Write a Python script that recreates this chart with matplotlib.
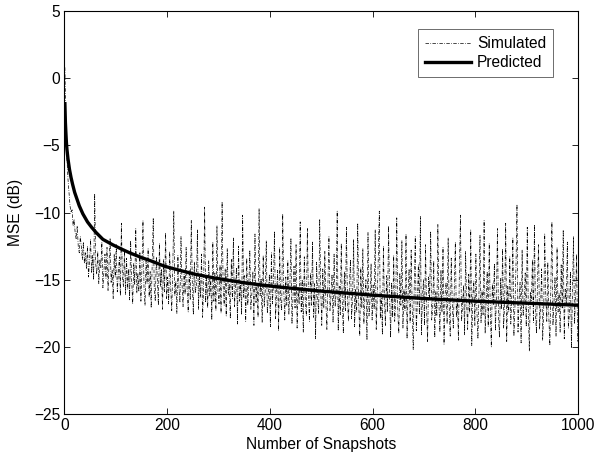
import matplotlib
matplotlib.use("Agg")
import matplotlib.pyplot as plt
import numpy as np

plt.rcParams['font.family'] = ['Liberation Sans', 'DejaVu Sans']
plt.rcParams['font.size'] = 11.2

# predicted MSE curve (dB)
pred_x = [1, 2, 3, 4, 5, 7, 10, 13, 16, 20, 29, 36, 45, 53, 62, 75, 94, 110, 127,
          150, 172, 195, 224, 255, 289, 320, 354, 385, 419, 500, 600, 700, 800, 900, 1000]
pred_y = [-1.9, -3.3, -4.1, -4.8, -5.3, -6.0, -6.8, -7.4, -7.9, -8.5, -9.5, -10.1,
          -10.7, -11.1, -11.5, -12.0, -12.4, -12.7, -13.0, -13.35, -13.65, -14.0,
          -14.3, -14.6, -14.85, -15.05, -15.25, -15.4, -15.55, -15.85, -16.15,
          -16.4, -16.6, -16.75, -16.9]

# simulated MSE (dB), every second snapshot
sim_y = [
    0.8, -3.5, -6, -7.5, -8.5, -9.5, -10, -9.8, -11, -10.5, -11.5, -12, -11, -12.5, -13, -11.8, -12.5, -13.5, -12.2, -13.8,
    -13, -14.2, -12.5, -14.8, -13.6, -12, -14.5, -13.2, -15, -8.6, -13.8, -14.6, -12.9, -15.3, -13.5, -14.1, -12.2, -15.6, -14.4, -13.1,
    -14.9, -12.6, -15.8, -13.7, -11.9, -15.2, -14.3, -16.4, -13.1, -14.8, -12.4, -15.9, -14.6, -13.3, -16.2, -10.8, -14.9, -15.5, -12.8, -16.1,
    -13.4, -15.7, -14.2, -16.5, -12.1, -15.1, -16.8, -13.8, -15.4, -11.2, -16, -14.5, -15.9, -13, -16.6, -14.1, -10.6, -15.6, -16.9, -13.6,
    -15.3, -12.7, -16.3, -14.4, -17.1, -13.9, -10.4, -15.8, -16.6, -13.3, -15, -16.9, -12.3, -15.5, -14.2, -17.2, -13.5, -15.9, -11.5, -16.4,
    -14.8, -16.8, -12.9, -15.7, -17.3, -14.1, -9.9, -16.2, -15.1, -17.5, -13.2, -15.6, -16.7, -11.8, -15.3, -17, -14.6, -16.1, -12.6, -15.8,
    -17.4, -14.3, -16.5, -10.6, -15.2, -17.6, -13.7, -16, -15.4, -11.3, -17.2, -14.8, -16.3, -13.1, -17.8, -15.6, -9.6, -16.7, -14.9, -17.1,
    -13.6, -16.2, -15, -18, -12.2, -16.6, -14.5, -17.3, -11, -15.9, -16.8, -13.9, -17.5, -9.2, -15.4, -16.9, -14.2, -17.7, -12.7, -16.1,
    -15.3, -17.9, -13.5, -16.4, -11.9, -17, -15.7, -14.1, -18.3, -12.5, -16.6, -15.1, -17.6, -10.2, -16.3, -14.7, -18.1, -13.4, -16.9, -15.5,
    -12.8, -17.2, -16, -14.4, -18.4, -11.6, -16.7, -15.3, -17.8, -9.7, -16.2, -14.9, -18.2, -13.2, -17, -15.8, -12.1, -17.5, -16.4, -14.6,
    -18.5, -13, -16.8, -15.2, -11.4, -17.9, -16.1, -14.3, -18.8, -12.6, -16.5, -17.3, -10.1, -15.7, -18, -14.8, -16.9, -13.6, -17.6, -15.4,
    -11.9, -18.3, -16.3, -14, -17.1, -12.4, -18.6, -15.6, -16.8, -10.7, -17.4, -15, -18.9, -13.3, -16.6, -17.7, -11.2, -15.9, -18.1, -14.5,
    -16.9, -12.2, -17.8, -15.3, -19.4, -13.7, -16.4, -17.5, -10.5, -15.8, -18.4, -14.2, -17.1, -12.9, -16.7, -18.7, -15.1, -11.8, -17.3, -16.2,
    -14.6, -18.2, -13.1, -17, -16, -9.9, -18.8, -15.5, -17.6, -12.3, -16.8, -19, -14.4, -17.3, -11.1, -16.5, -18.1, -15.2, -13.5, -17.9,
    -16.3, -12, -18.5, -15.7, -17.4, -10.8, -16.9, -19.2, -14.1, -17.1, -12.7, -18.3, -16.2, -15, -19.5, -11.5, -17.7, -16.5, -13.8, -18,
    -15.4, -17.2, -11.3, -18.7, -16.4, -13.4, -9.9, -17.9, -15.9, -19.1, -12.5, -16.7, -18.4, -14.7, -17.4, -11, -16.1, -19.3, -15.2, -17.8,
    -13.2, -18.1, -16.6, -10.4, -17.5, -19, -14.5, -16.9, -12.1, -18.6, -15.7, -17.3, -11.6, -19.4, -16, -14.2, -18.2, -12.8, -17, -20.2,
    -15.5, -11.8, -18.8, -16.8, -13.9, -17.6, -10.3, -19.1, -16.3, -15, -18.4, -12.4, -17.2, -19.6, -14.8, -16.5, -11.4, -18, -17.1, -13.6,
    -19.3, -15.9, -17.7, -10.9, -16.7, -18.9, -14.3, -17.4, -12.6, -19.8, -16.1, -15.2, -18.3, -11.9, -17, -19.2, -13.4, -16.6, -18.6, -15.6,
    -12.2, -17.8, -16.4, -19.5, -14, -10.2, -18.1, -17, -15.4, -19.1, -12.9, -16.8, -18.7, -14.6, -17.5, -11.3, -19.9, -16.2, -15.1, -18.4,
    -13.1, -17.3, -19.4, -16, -11.7, -18.2, -15.8, -17.6, -10.6, -19, -16.5, -14.4, -18.5, -12.3, -17.1, -20, -15.3, -16.9, -13.8, -18.8,
    -16.3, -11.2, -17.9, -19.3, -14.9, -17.2, -12.7, -18.6, -16.7, -10.8, -19.6, -15.5, -17.4, -13.3, -18.3, -16.1, -11.9, -19.2, -17, -14.1,
    -9.4, -18.9, -16.6, -15.2, -19.7, -12.8, -17.7, -16.4, -14.5, -18.5, -11.1, -17.1, -20.3, -15.9, -16.8, -13.5, -18.2, -10.9, -17.6, -19,
    -15, -12.4, -18.7, -16.9, -14.2, -19.5, -17.3, -11.6, -16.2, -18.1, -13.7, -17.8, -19.9, -15.4, -10.7, -18.4, -16.7, -14.8, -19.2, -12.6,
    -17.4, -16, -18.9, -13.9, -17.1, -11.3, -19.4, -15.7, -16.8, -12.2, -18.6, -17.5, -14.4, -20.1, -15.9, -11.8, -18.3, -16.4, -13.1, -19.6,
]
sim_x = np.arange(1, 2 * len(sim_y), 2)

fig = plt.figure(figsize=(5.96, 4.57), dpi=100)
ax = fig.add_axes([0.108, 0.094, 0.862, 0.882])

ax.plot(sim_x, sim_y, color='black', lw=0.5, linestyle=(0, (5, 2, 1, 2)), label='Simulated')
ax.plot(pred_x, pred_y, color='black', lw=2.4, label='Predicted')

ax.set_xlim(0, 1000)
ax.set_ylim(-25, 5)
ax.set_xticks([0, 200, 400, 600, 800, 1000])
ax.set_yticks([-25, -20, -15, -10, -5, 0, 5])
ax.set_yticklabels(['\u221225', '\u221220', '\u221215', '\u221210', '\u22125', '0', '5'])
ax.tick_params(direction='in', top=True, right=True, length=4, width=0.6, pad=3)
for s in ax.spines.values():
    s.set_linewidth(0.8)

ax.set_xlabel('Number of Snapshots', labelpad=3)
ax.set_ylabel('MSE (dB)', labelpad=8)

leg = ax.legend(loc='upper right', bbox_to_anchor=(0.951, 0.955), borderaxespad=0,
                fancybox=False, framealpha=1, edgecolor='#555555', handlelength=2.9,
                borderpad=0.45, labelspacing=0.25, handletextpad=0.4)
leg.get_frame().set_linewidth(0.6)

fig.savefig('out.png', dpi=100)
